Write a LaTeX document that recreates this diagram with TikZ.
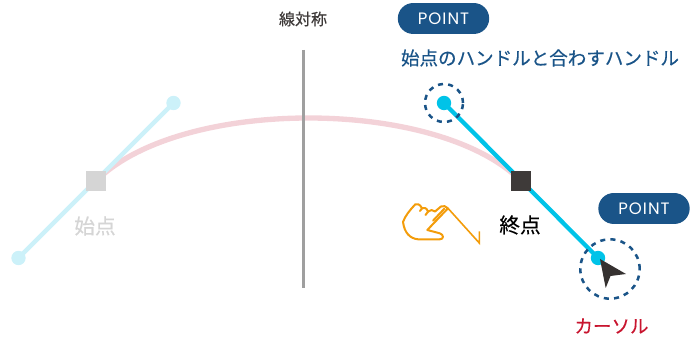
\documentclass[tikz,border=0pt]{standalone}
\usepackage{fontspec}
\setmainfont{Noto Sans CJK JP}
\newfontfamily\medcjk[FakeBold=0.35]{Noto Sans CJK JP}
\newfontfamily\latinlab[LetterSpace=6]{Poppins}
\definecolor{navy}{HTML}{1A5488}
\definecolor{cyanh}{HTML}{00C3E8}
\definecolor{cyanl}{HTML}{CCF1F9}
\definecolor{pinkc}{HTML}{F3D2D8}
\definecolor{darkb}{HTML}{3E3A39}
\definecolor{lgray}{HTML}{D5D5D5}
\definecolor{redt}{HTML}{C8152F}
\definecolor{handc}{HTML}{F39C0A}
\tikzset{
  px/.style={x=0.75pt,y=-0.75pt},
  anchorsq/.style={rectangle,minimum size=15pt,inner sep=0pt},
  handledot/.style={circle,minimum size=10.8pt,inner sep=0pt},
  pill/.style={rectangle,rounded corners=11.5pt,fill=navy,text=white,minimum width=68.5pt,minimum height=23.2pt,inner sep=0pt,font=\latinlab\fontsize{12.4pt}{13pt}\selectfont},
  dashring/.style={circle,draw=navy,line width=1.9pt,dash pattern=on 3.8pt off 3.9pt,inner sep=0pt},
  lab/.style={inner sep=0pt,anchor=center},
  handline/.style={handc,line width=1.5pt,line join=round,line cap=round},
}
\begin{document}
\begin{tikzpicture}[px]
\useasboundingbox (0,0) rectangle (697,338);
% nodes
\node[anchorsq,fill=lgray] (S) at (96,181) {};
\node[anchorsq,fill=darkb] (E) at (521,181) {};
\node[handledot,fill=cyanl] (S1) at (173.5,103) {};
\node[handledot,fill=cyanl] (S2) at (18.5,258) {};
\node[handledot,fill=cyanh] (E1) at (444,103) {};
\node[handledot,fill=cyanh] (E2) at (598,258) {};
\coordinate (axT) at (303.5,50);
\coordinate (axB) at (303.5,288);
% curve
\draw[pinkc,line width=4pt] (S.center) .. controls (180,97) and (437,97) .. (E.center);
% axis
\draw[gray!75,line width=2.2pt] (axT) -- (axB);
% handles
\draw[cyanl,line width=3.2pt] (S1.center) -- (S2.center);
\draw[cyanh,line width=3.2pt] (E1.center) -- (E2.center);
\node[anchorsq,fill=lgray] at (S) {};
\node[anchorsq,fill=darkb] at (E) {};
% rings
\node[dashring,minimum size=28.5pt] (R1) at (444,103) {};
\node[dashring,minimum size=44.5pt] (R2) at (610,269) {};
% cursor
\fill[darkb!85!black] (600,259) -- (626,274) -- (610.5,276) -- (605.7,288) -- cycle;
% hand: arrow tail
\draw[handc,line width=1.2pt,line join=miter]
  (448,208.3) -- (479.3,243) -- (479.3,231.5);
% hand: outline
\draw[handline]
  (448,208.3) -- (427.3,230) -- (439.7,233.3)
  .. controls (444,234.5) and (444,239.5) .. (439.7,239.3)
  -- (418,239.3) .. controls (410,238.5) and (404.5,233) .. (403,222)
  .. controls (405,216) and (410,210) .. (415.3,204.3)
  .. controls (417,203.5) and (420,204) .. (422,208.3)
  .. controls (424,207) and (427,208) .. (428,211.7)
  .. controls (430,209.5) and (433,209.5) .. (435,211.5)
  -- (441,206.5) .. controls (443,205.5) and (446,206) .. (448,208.3);
\draw[handline] (422,208.3) -- (420,211);
\draw[handline] (428,211.7) -- (425.5,215);
\draw[handline] (444.5,208.5) -- (433,220.7);
% labels
\node[pill] (P1) at (443.5,18.5) {POINT};
\node[pill] (P2) at (644,208.5) {POINT};
\node[lab,text=darkb,font=\medcjk\fontsize{12pt}{13pt}\selectfont] (tA) at (303,19) {線対称};
\node[lab,text=navy,font=\medcjk\fontsize{13.9pt}{16pt}\selectfont] (tH) at (540,58) {始点のハンドルと合わすハンドル};
\node[lab,text=lgray,font=\medcjk\fontsize{15.5pt}{18pt}\selectfont] (tS) at (95,226) {始点};
\node[lab,text=black,font=\medcjk\fontsize{15.5pt}{18pt}\selectfont] (tE) at (520,225) {終点};
\node[lab,text=redt,font=\medcjk\fontsize{13.9pt}{16pt}\selectfont] (tC) at (611.5,326) {カーソル};
\end{tikzpicture}
\end{document}
